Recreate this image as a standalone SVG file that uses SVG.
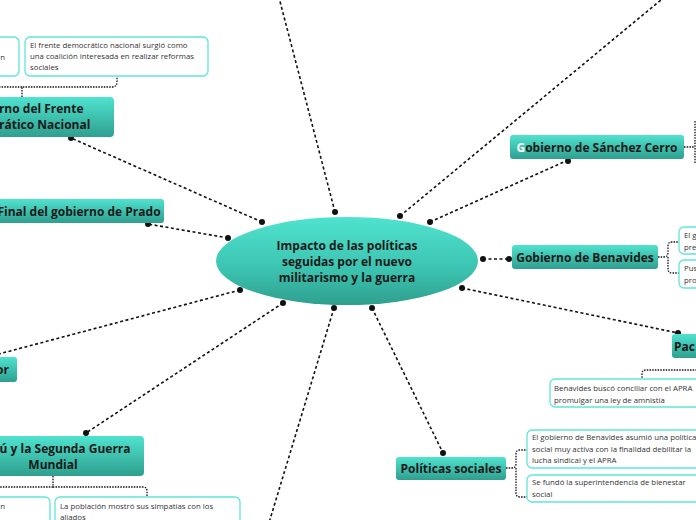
<svg xmlns="http://www.w3.org/2000/svg" width="696" height="520" viewBox="0 0 696 520">
<defs>
<linearGradient id="gn" x1="0" y1="0" x2="0" y2="1">
<stop offset="0" stop-color="#4fe3cf"/>
<stop offset="1" stop-color="#2f9f8f"/>
</linearGradient>
<linearGradient id="ge" x1="0" y1="0" x2="0" y2="1">
<stop offset="0" stop-color="#4fe3cf"/>
<stop offset="0.6" stop-color="#3cc3b0"/>
<stop offset="1" stop-color="#2f9f8f"/>
</linearGradient>
<style>
.node rect{fill:url(#gn);}
.nt{font-family:"Open Sans","Noto Sans",sans-serif;font-weight:bold;font-size:12px;fill:#1a1a1a;text-anchor:middle;}
.sub rect{fill:#fff;stroke:#5fe6d6;stroke-width:1.3;}
.st{font-family:"Open Sans","Noto Sans",sans-serif;font-size:7.8px;fill:#333;}
.c{fill:none;stroke:#111;stroke-width:1.6;stroke-dasharray:3 2.5;}
.b{fill:none;stroke:#111;stroke-width:1.3;stroke-dasharray:1.5 1.2;}
.d{fill:#111;}
</style>
</defs>
<g id="connectors">
<path class="c" d="M262 222 L71 138"/>
<path class="c" d="M228 238 L148 224"/>
<path class="c" d="M240 290 L-20 359"/>
<path class="c" d="M283 303 L86 433"/>
<path class="c" d="M334 308 L265 536"/>
<path class="c" d="M335 212 L277 -10"/>
<path class="c" d="M400 216 L673 -10"/>
<path class="c" d="M430 222 L568 160"/>
<path class="c" d="M483 259 L509 259"/>
<path class="c" d="M462 288 L678 333"/>
<path class="c" d="M372 308 L443 453"/>
<path class="b" d="M22 97 V87 H112 Q117 87 117 82 V77"/>
<path class="b" d="M22 87 H-10"/>
<path class="b" d="M684 147 H695 M695 121 V164"/>
<path class="b" d="M658 257 H664 Q668 257 668 252 V246 Q668 242 672 242 H679 M668 257 V269 Q668 273 672 273 H679"/>
<path class="b" d="M720 358 V370 H646 Q642 370 642 374 V379"/>
<path class="b" d="M506 468 H512 Q516 468 516 463 V454 Q516 450 520 450 H527 M516 468 V493 Q516 497 520 497 H527"/>
<path class="b" d="M53 476 V487 H143 Q147 487 147 491 V497 M53 487 H-10"/>
<circle class="d" cx="262" cy="222" r="3"/>
<circle class="d" cx="228" cy="238" r="3"/>
<circle class="d" cx="148" cy="224" r="3"/>
<circle class="d" cx="240" cy="290" r="3"/>
<circle class="d" cx="283" cy="303" r="3"/>
<circle class="d" cx="86" cy="433" r="3"/>
<circle class="d" cx="334" cy="308" r="3"/>
<circle class="d" cx="335" cy="212" r="3"/>
<circle class="d" cx="400" cy="216" r="3"/>
<circle class="d" cx="430" cy="222" r="3"/>
<circle class="d" cx="568" cy="161" r="3"/>
<circle class="d" cx="483" cy="259" r="3"/>
<circle class="d" cx="509" cy="259" r="3"/>
<circle class="d" cx="462" cy="288" r="3"/>
<circle class="d" cx="678" cy="333" r="3"/>
<circle class="d" cx="372" cy="308" r="3"/>
<circle class="d" cx="443" cy="453" r="3"/>
<circle class="d" cx="71" cy="138" r="3"/>
</g>
<g id="central">
<ellipse cx="347" cy="261" rx="131" ry="44" fill="url(#ge)"/>
<text class="nt" x="347" y="250">Impacto de las políticas</text>
<text class="nt" x="347" y="266">seguidas por el nuevo</text>
<text class="nt" x="347" y="282">militarismo y la guerra</text>
</g>
<g id="n-frente" class="node">
<rect x="-70" y="97" width="184" height="40" rx="4"/>
<text class="nt" x="24" y="113">Gobierno del Frente</text>
<text class="nt" x="24" y="129">Democrático Nacional</text>
</g>
<g id="s-frente0" class="sub">
<rect x="-60" y="37" width="79" height="39" rx="5"/>
<text class="st" x="5" y="60" text-anchor="end">n</text>
</g>
<g id="s-frente1" class="sub">
<rect x="25" y="37" width="183" height="39" rx="5"/>
<text class="st" x="30" y="48">El frente democrático nacional surgió como</text>
<text class="st" x="30" y="59">una coalición interesada en realizar reformas</text>
<text class="st" x="30" y="70">sociales</text>
</g>
<g id="n-prado" class="node">
<rect x="-6" y="199" width="170" height="24" rx="3"/>
<text class="nt" x="79" y="216">Final del gobierno de Prado</text>
</g>
<g id="n-or" class="node">
<rect x="-60" y="357" width="77" height="25" rx="3"/>
<text class="nt" x="9" y="374" style="text-anchor:end">or</text>
</g>
<g id="n-guerra" class="node">
<rect x="-38" y="436" width="182" height="40" rx="4"/>
<text class="nt" x="55" y="453">Perú y la Segunda Guerra</text>
<text class="nt" x="53" y="469">Mundial</text>
</g>
<g id="s-guerra0" class="sub">
<rect x="-60" y="497" width="110" height="40" rx="5"/>
<text class="st" x="5" y="509" text-anchor="end">n</text>
</g>
<g id="s-guerra1" class="sub">
<rect x="55" y="497" width="185" height="40" rx="5"/>
<text class="st" x="60" y="509">La población mostró sus simpatías con los</text>
<text class="st" x="60" y="520">aliados</text>
</g>
<g id="n-sanchez" class="node">
<rect x="510" y="135" width="174" height="24" rx="3"/>
<text class="nt" x="597" y="152"><tspan fill="#ffffff">G</tspan>obierno de Sánchez Cerro</text>
</g>
<g id="n-benavides" class="node">
<rect x="512" y="245" width="146" height="24" rx="3"/>
<text class="nt" x="585" y="262">Gobierno de Benavides</text>
</g>
<g id="s-ben1" class="sub">
<rect x="679" y="227" width="60" height="27" rx="5"/>
<text class="st" x="684" y="238">El g</text>
<text class="st" x="684" y="250">pre</text>
</g>
<g id="s-ben2" class="sub">
<rect x="679" y="260" width="60" height="28" rx="5"/>
<text class="st" x="684" y="271">Pus</text>
<text class="st" x="684" y="283">pro</text>
</g>
<g id="n-pac" class="node">
<rect x="672" y="334" width="80" height="24" rx="3"/>
<text class="nt" x="674" y="351" style="text-anchor:start">Pac</text>
</g>
<g id="s-pac" class="sub">
<rect x="550" y="379" width="200" height="28" rx="5"/>
<text class="st" x="554" y="391">Benavides buscó conciliar con el APRA</text>
<text class="st" x="554" y="403">promulgar una ley de amnistía</text>
</g>
<g id="n-sociales" class="node">
<rect x="396" y="457" width="110" height="23" rx="3"/>
<text class="nt" x="451" y="473">Políticas sociales</text>
</g>
<g id="s-soc1" class="sub">
<rect x="527" y="430" width="200" height="38" rx="5"/>
<text class="st" x="532" y="440">El gobierno de Benavides asumió una política</text>
<text class="st" x="532" y="452">social muy activa con la finalidad debilitar la</text>
<text class="st" x="532" y="463">lucha sindical y el APRA</text>
</g>
<g id="s-soc2" class="sub">
<rect x="527" y="475" width="200" height="27" rx="5"/>
<text class="st" x="532" y="485">Se fundó la superintendencia de bienestar</text>
<text class="st" x="532" y="497">social</text>
</g>
</svg>
